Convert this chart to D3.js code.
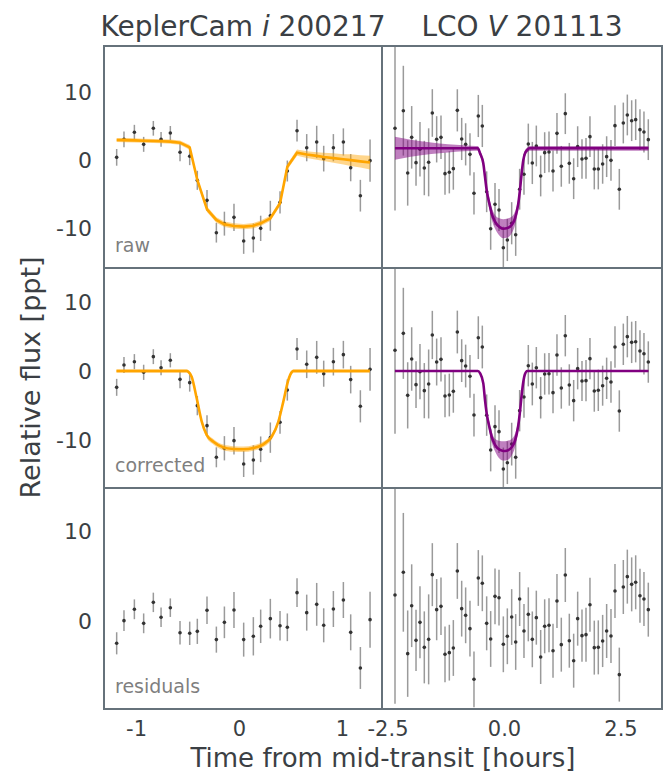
<!DOCTYPE html>
<html>
<head>
<meta charset="utf-8">
<script src="https://cdn.jsdelivr.net/npm/d3@7"></script>
<style>
  body { margin: 0; background: #fff; }
  text { font-family: "DejaVu Sans", sans-serif; }
</style>
</head>
<body>
<div id="vis"></div>
<script>
// ---- KeplerCam i 200217 ----
const keplerTime = [-1.188, -1.117, -1.016, -0.926, -0.832, -0.757, -0.667, -0.573, -0.479, -0.405,
  -0.311, -0.220, -0.142, -0.049, 0.045, 0.139, 0.210, 0.304, 0.398, 0.469,
  0.563, 0.657, 0.754, 0.822, 0.916, 1.013, 1.084, 1.178, 1.272];
const keplerRaw = [0.39, 3.04, 4.07, 2.30, 4.66, 3.04, 3.97, 1.13, 0.54, -2.99,
  -5.93, -10.69, -9.36, -8.43, -11.91, -11.47, -10.05, -8.2, -6.23, -1.62,
  4.31, 1.81, 2.65, 0.20, 1.81, 2.65, -1.13, -5.25, -0.10];
const keplerCorr = [-2.37, 0.87, 1.35, -0.19, 2.08, 0.48, 1.55, -1.21, -1.69, -5.02,
  -7.92, -12.51, -11.20, -10.10, -13.48, -12.90, -11.35, -9.66, -7.44, -2.75,
  3.19, 0.97, 1.98, -0.39, 1.35, 2.37, -1.25, -5.12, 0.24];
const keplerResid = [-2.48, 0.04, 1.30, -0.26, 2.07, 0.41, 1.48, -1.30, -1.37, -1.15,
  1.19, -2.07, -0.15, 1.22, -2.07, -1.70, -0.59, 0.26, -0.52, -0.70,
  3.15, 0.93, 1.85, -0.48, 1.33, 2.33, -1.26, -5.22, 0.15];
const keplerErr = [1.23, 1.15, 1.10, 1.10, 1.08, 1.08, 1.03, 1.30, 1.30, 1.40,
  1.52, 1.45, 1.76, 2.00, 1.89, 2.13, 1.86, 2.20, 1.64, 1.54,
  1.59, 2.00, 2.38, 1.89, 2.00, 2.00, 2.00, 2.33, 3.11];
// raw model is evaluated at the data times
const keplerRawModel = [2.94, 2.92, 2.88, 2.84, 2.80, 2.76, 2.70, 2.55, 1.86, -2.94,
  -7.25, -8.82, -9.46, -9.71, -9.80, -9.66, -9.31, -8.58, -6.37, -0.98,
  1.08, 0.80, 0.60, 0.45, 0.28, 0.10, -0.02, -0.20, -0.38];
const keplerRawBand = [0.3, 0.3, 0.3, 0.3, 0.3, 0.3, 0.3, 0.3, 0.35, 0.4,
  0.4, 0.4, 0.4, 0.4, 0.4, 0.4, 0.4, 0.4, 0.4, 0.4,
  0.45, 0.5, 0.55, 0.6, 0.7, 0.75, 0.85, 0.9, 1.0];
const keplerModelTime = [-1.19, -0.508, -0.49, -0.46, -0.411, -0.362, -0.314, -0.249, -0.152, -0.055,
  0.042, 0.139, 0.236, 0.317, 0.382, 0.430, 0.479, 0.510, 0.527, 1.27];
const keplerCorrModel = [0, 0, -0.15, -0.82, -3.96, -7.34, -9.28, -10.24, -11.07, -11.30,
  -11.35, -11.16, -10.63, -9.52, -7.34, -4.44, -1.30, -0.2, 0, 0];
const keplerCorrBand = [0.25, 0.25, 0.25, 0.3, 0.35, 0.4, 0.4, 0.4, 0.4, 0.4,
  0.4, 0.4, 0.4, 0.4, 0.4, 0.35, 0.3, 0.25, 0.25, 0.25];

// ---- LCO V 201113 ----
const lcoTime = [-2.339, -2.160, -2.067, -1.981, -1.888, -1.803, -1.710, -1.617, -1.538, -1.445,
  -1.352, -1.266, -1.173, -1.087, -1.001, -0.908, -0.823, -0.730, -0.644, -0.551,
  -0.465, -0.372, -0.286, -0.193, -0.107, -0.014, 0.072, 0.165, 0.251, 0.336,
  0.429, 0.522, 0.608, 0.694, 0.787, 0.873, 0.966, 1.052, 1.137, 1.230,
  1.316, 1.402, 1.495, 1.581, 1.674, 1.760, 1.845, 1.938, 2.024, 2.117,
  2.203, 2.296, 2.382, 2.475, 2.561, 2.647, 2.740, 2.826, 2.918, 3.004,
  3.097];
const lcoRaw = [4.66, 7.25, -1.91, 3.33, -0.39, 1.57, -1.18, -0.34, 6.91, 3.04,
  3.33, -2.01, -1.81, -1.27, 7.30, 3.09, 2.30, 0.83, -4.90, 6.47,
  5.00, -4.67, -10.10, -6.50, -7.35, -12.90, -11.76, -9.30, -11.00, -4.30,
  -2.10, 2.35, -0.44, 2.06, -2.35, 1.08, 1.18, -1.62, 3.92, -0.93,
  6.81, -0.49, -2.75, 1.96, 0.15, 0.25, 3.43, -1.32, -1.32, -0.59,
  0.49, -0.05, 5.05, -4.31, 5.44, 6.62, 5.78, 5.93, 4.46, 4.12,
  2.99];
const lcoCorr = [3.00, 5.46, -3.53, 1.74, -1.98, -0.10, -2.85, -1.88, 5.22, 1.30,
  1.69, -3.62, -3.48, -2.95, 5.65, 1.50, 0.72, -0.77, -6.38, 4.83,
  3.48, -6.40, -11.45, -8.07, -8.79, -14.20, -13.29, -10.60, -12.51, -5.75,
  -3.77, 0.77, -1.88, 0.48, -3.88, -0.43, -0.39, -3.14, 2.32, -2.46,
  5.12, -2.03, -4.30, 0.34, -1.45, -1.40, 1.79, -2.90, -2.80, -2.13,
  -1.06, -1.59, 3.48, -5.80, 3.87, 4.98, 4.15, 4.25, 2.90, 2.51,
  1.30];
const lcoResid = [2.89, 5.41, -3.63, 1.70, -2.15, -0.15, -2.93, -2.04, 5.15, 1.26,
  1.63, -3.70, -3.52, -3.00, 5.56, 1.37, 0.63, -0.85, -6.48, 4.78,
  4.19, -0.26, -2.00, 2.74, 2.59, -2.59, -1.70, 0.44, -2.33, 2.44,
  -1.11, 0.74, -2.04, 0.37, -4.00, -0.59, -0.48, -3.30, 2.22, -2.63,
  5.11, -2.19, -4.41, 0.26, -1.63, -1.52, 1.81, -2.96, -2.93, -2.22,
  -1.11, -1.67, 3.33, -5.96, 3.78, 4.93, 4.07, 4.30, 2.81, 2.44,
  1.26];
const lcoErr = [12.1, 6.6, 4.8, 4.6, 3.4, 4.0, 4.0, 5.0, 3.5, 3.4,
  3.2, 3.1, 3.1, 3.1, 3.1, 3.1, 3.1, 3.1, 3.1, 3.1,
  3.1, 3.0, 3.1, 3.1, 3.1, 3.1, 3.1, 3.1, 3.1, 3.0,
  3.0, 3.0, 3.1, 3.0, 3.0, 3.0, 3.0, 3.0, 3.0, 3.0,
  3.0, 3.0, 3.0, 3.0, 2.9, 3.0, 3.0, 3.0, 3.0, 2.9,
  3.0, 3.0, 3.0, 3.0, 3.0, 3.0, 3.0, 3.0, 3.0, 3.0,
  3.0];
const lcoModelTime = [-2.34, -2.0, -1.56, -1.2, -0.87, -0.6, -0.56, -0.515, -0.444, -0.408,
  -0.372, -0.315, -0.265, -0.193, -0.086, -0.014, 0.057, 0.165, 0.236, 0.308,
  0.343, 0.379, 0.415, 0.451, 0.5, 0.55, 1.5, 3.1];
const lcoRawModel = [1.72, 1.72, 1.72, 1.72, 1.72, 1.72, 1.72, 1.0, -0.49, -2.45,
  -4.41, -6.37, -7.84, -9.07, -9.9, -10.1, -10.05, -9.56, -8.58, -6.37,
  -4.41, -1.96, 0.0, 0.98, 1.47, 1.72, 1.72, 1.72];
const lcoRawBand = [1.7, 1.25, 0.85, 0.6, 0.45, 0.35, 0.35, 0.4, 0.5, 0.6,
  0.7, 0.8, 0.9, 1.0, 1.3, 1.4, 1.4, 1.2, 1.0, 0.8,
  0.7, 0.6, 0.5, 0.4, 0.35, 0.35, 0.35, 0.35];
const lcoCorrModel = [0, 0, 0, 0, 0, 0, 0, -0.3, -1.79, -4.2,
  -6.14, -8.07, -9.52, -10.72, -11.45, -11.59, -11.55, -11.06, -10.1, -7.83,
  -5.89, -3.48, -1.55, -0.43, 0, 0, 0, 0];
const lcoCorrBand = [0.1, 0.1, 0.1, 0.1, 0.1, 0.1, 0.1, 0.2, 0.4, 0.5,
  0.6, 0.7, 0.8, 0.9, 1.3, 1.4, 1.4, 1.2, 1.0, 0.8,
  0.7, 0.6, 0.4, 0.2, 0.1, 0.1, 0.1, 0.1];

// ticks and labels
const rowLabels = ["raw", "corrected", "residuals"];
const yTicks = [[-10, 0, 10], [-10, 0, 10], [0, 10]];
const keplerTicks = [-1, 0, 1];
const lcoTicks = [-2.5, 0, 2.5];

// layout
const colEdges = [104, 382, 662];
const rowEdges = [46, 268, 488, 709];
const yDomains = [[-15.88, 16.76], [-16.96, 14.93], [-9.78, 14.78]];
const textColor = "#3b3f44";
const frameColor = "#66727b";

const svg = d3.select("#vis")
  .append("svg")
  .attr("width", 665)
  .attr("height", 774);

const columns = [
  {
    id: "kep", time: keplerTime, err: keplerErr, domain: [-1.311, 1.388],
    ticks: keplerTicks, fmt: d => d.toFixed(0),
    data: [keplerRaw, keplerCorr, keplerResid],
    modelTime: [keplerTime, keplerModelTime],
    model: [keplerRawModel, keplerCorrModel],
    band: [keplerRawBand, keplerCorrBand],
    curve: [d3.curveLinear, d3.curveMonotoneX],
    color: "#ffa500", bandOpacity: 0.45,
    title: ["KeplerCam ", "i", " 200217"]
  },
  {
    id: "lco", time: lcoTime, err: lcoErr, domain: [-2.618, 3.391],
    ticks: lcoTicks, fmt: d => d.toFixed(1),
    data: [lcoRaw, lcoCorr, lcoResid],
    modelTime: [lcoModelTime, lcoModelTime],
    model: [lcoRawModel, lcoCorrModel],
    band: [lcoRawBand, lcoCorrBand],
    curve: [d3.curveMonotoneX, d3.curveMonotoneX],
    color: "#800080", bandOpacity: 0.5,
    title: ["LCO ", "V", " 201113"]
  }
];

columns.forEach((col, ci) => {
  const x = d3.scaleLinear().domain(col.domain).range([colEdges[ci], colEdges[ci + 1]]);

  // column title
  const title = svg.append("text")
    .attr("x", (colEdges[ci] + colEdges[ci + 1]) / 2)
    .attr("y", 36)
    .attr("text-anchor", "middle")
    .style("font-size", "28px")
    .style("fill", textColor);
  title.append("tspan").text(col.title[0]);
  title.append("tspan").style("font-style", "italic").text(col.title[1]);
  title.append("tspan").text(col.title[2]);

  rowLabels.forEach((label, ri) => {
    const y = d3.scaleLinear().domain(yDomains[ri]).range([rowEdges[ri + 1], rowEdges[ri]]);
    const clipId = `clip-${col.id}-${ri}`;

    svg.append("clipPath").attr("id", clipId)
      .append("rect")
      .attr("x", colEdges[ci]).attr("y", rowEdges[ri])
      .attr("width", colEdges[ci + 1] - colEdges[ci])
      .attr("height", rowEdges[ri + 1] - rowEdges[ri]);

    const g = svg.append("g").attr("clip-path", `url(#${clipId})`);
    const vals = col.data[ri];

    // error bars
    g.selectAll(".err")
      .data(col.time)
      .enter()
      .append("line")
      .attr("x1", d => x(d)).attr("x2", d => x(d))
      .attr("y1", (d, i) => y(vals[i] - col.err[i]))
      .attr("y2", (d, i) => y(vals[i] + col.err[i]))
      .attr("stroke", "#9a9a9a")
      .attr("stroke-width", 1.5);

    g.selectAll(".pt")
      .data(col.time)
      .enter()
      .append("circle")
      .attr("cx", d => x(d))
      .attr("cy", (d, i) => y(vals[i]))
      .attr("r", 1.8)
      .attr("fill", "#333");

    // model + uncertainty band
    if (ri < 2) {
      const mt = col.modelTime[ri], mv = col.model[ri], mb = col.band[ri];
      const area = d3.area()
        .x(d => x(d))
        .y0((d, i) => y(mv[i] - mb[i]))
        .y1((d, i) => y(mv[i] + mb[i]))
        .curve(col.curve[ri]);
      const line = d3.line()
        .x(d => x(d))
        .y((d, i) => y(mv[i]))
        .curve(col.curve[ri]);

      g.append("path")
        .datum(mt)
        .attr("d", area)
        .attr("fill", col.color)
        .attr("opacity", col.bandOpacity);
      g.append("path")
        .datum(mt)
        .attr("d", line)
        .attr("fill", "none")
        .attr("stroke", col.color)
        .attr("stroke-width", 2.6);
    }

    // frame
    svg.append("rect")
      .attr("x", colEdges[ci]).attr("y", rowEdges[ri])
      .attr("width", colEdges[ci + 1] - colEdges[ci])
      .attr("height", rowEdges[ri + 1] - rowEdges[ri])
      .attr("fill", "none")
      .attr("stroke", frameColor)
      .attr("stroke-width", 2);

    // y axis on the left column only
    if (ci === 0) {
      svg.append("g")
        .attr("transform", `translate(${colEdges[0]},0)`)
        .call(d3.axisLeft(y).tickValues(yTicks[ri]).tickSize(0).tickPadding(12)
          .tickFormat(d => d.toFixed(0)))
        .call(a => a.select(".domain").remove())
        .selectAll("text")
        .style("font-size", "22px")
        .style("font-family", "DejaVu Sans")
        .style("fill", textColor);

      svg.append("text")
        .attr("x", 115)
        .attr("y", rowEdges[ri + 1] - 16)
        .style("font-size", "19px")
        .style("fill", "#7f7f7f")
        .text(label);
    }
  });

  // x axis below the bottom row
  svg.append("g")
    .attr("transform", `translate(0,${rowEdges[3]})`)
    .call(d3.axisBottom(x).tickValues(col.ticks).tickSize(0).tickPadding(12)
      .tickFormat(col.fmt))
    .call(a => a.select(".domain").remove())
    .selectAll("text")
    .style("font-size", "21px")
    .style("font-family", "DejaVu Sans")
    .style("fill", textColor);
});

// axis titles
svg.append("text")
  .attr("x", (colEdges[0] + colEdges[2]) / 2)
  .attr("y", 767)
  .attr("text-anchor", "middle")
  .style("font-size", "26px")
  .style("fill", textColor)
  .text("Time from mid-transit [hours]");

svg.append("text")
  .attr("transform", `translate(40,${(rowEdges[0] + rowEdges[3]) / 2}) rotate(-90)`)
  .attr("text-anchor", "middle")
  .style("font-size", "27px")
  .style("fill", textColor)
  .text("Relative flux [ppt]");
</script>
</body>
</html>
